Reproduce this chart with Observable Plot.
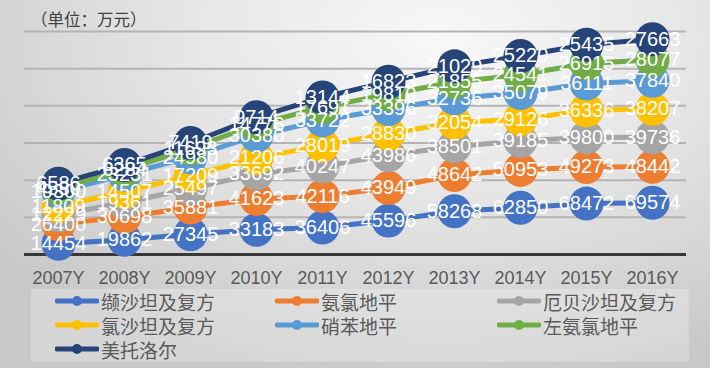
<!DOCTYPE html>
<html><head><meta charset="utf-8">
<script src="https://cdn.jsdelivr.net/npm/d3@7"></script>
<script src="https://cdn.jsdelivr.net/npm/@observablehq/plot@0.6"></script>
<style>
body{margin:0;}
#wrap{position:relative;width:710px;height:368px;overflow:hidden;background:radial-gradient(ellipse 80% 95% at 62% 10%, #f8f8f8 0%, #e6e6e6 45%, #c8c8c8 100%);font-family:"Liberation Sans","Noto Sans CJK SC",sans-serif;}
#title{position:absolute;left:31px;top:11px;font-size:16.5px;line-height:1;color:#404040;font-family:"Noto Sans CJK SC",sans-serif;}
#chart{position:absolute;left:0;top:0;}
#legend{position:absolute;left:31px;top:289px;width:658px;height:73px;background:rgba(255,255,255,0.25);}
.item{position:absolute;display:flex;align-items:center;font-size:19px;line-height:1;color:#595959;font-family:"Noto Sans CJK SC",sans-serif;height:24px;}
.item svg{margin-right:2px;}
</style></head><body>
<div id="wrap">
  <div id="chart"></div>
  <div id="title">（单位：万元）</div>
  <div id="legend"></div>
</div>
<script>
const years = ["2007Y","2008Y","2009Y","2010Y","2011Y","2012Y","2013Y","2014Y","2015Y","2016Y"];
const seriesNames = ["缬沙坦及复方","氨氯地平","厄贝沙坦及复方","氯沙坦及复方","硝苯地平","左氨氯地平","美托洛尔"];
const seriesColors = ["#4472C4","#ED7D31","#A5A5A5","#FFC000","#5B9BD5","#70AD47","#264478"];
const valsartan   = [14454,19862,27345,33183,36406,45596,58268,62850,68472,69574];
const amlodipine  = [26400,30698,35881,41623,42116,43949,48642,50953,49273,48442];
const irbesartan  = [12229,19361,25497,33692,40247,43986,38501,39185,39800,39736];
const losartan    = [11809,14507,17209,21206,28019,28830,32054,29126,36336,38207];
const nifedipine  = [19300,23231,24980,30380,33722,33396,32736,35079,36111,37840];
const levamlodipine = [4530,6284,11693,14776,17691,19810,21855,24541,26915,28077];
const metoprolol  = [6586,6365,7419,9714,13144,16823,21029,25220,25435,27663];
const gridValues = [50000,100000,150000,200000,250000,300000];

const seriesValues = [valsartan,amlodipine,irbesartan,losartan,nifedipine,levamlodipine,metoprolol];

// stacked line (cumulative tops)
const rows = [];
years.forEach((yr, j) => {
  let acc = 0;
  seriesNames.forEach((s, i) => {
    acc += seriesValues[i][j];
    rows.push({series: s, idx: i, year: yr, value: seriesValues[i][j], top: acc});
  });
});

const seriesMarks = seriesNames.flatMap((s, i) => {
  const d = rows.filter(r => r.idx === i);
  return [
    Plot.lineY(d, {x: "year", y: "top", stroke: seriesColors[i], strokeWidth: 5, strokeLinejoin: "round", strokeLinecap: "round"}),
    Plot.dot(d, {x: "year", y: "top", r: 17, fill: seriesColors[i], stroke: "none"})
  ];
});

const chart = Plot.plot({
  width: 710,
  height: 290,
  marginLeft: 24,
  marginRight: 24,
  marginTop: 31,
  marginBottom: 36,
  style: {background: "transparent", fontFamily: "'Liberation Sans', Arial, sans-serif"},
  x: {type: "point", domain: years, padding: 0.5, axis: null},
  y: {domain: [0, 300000], axis: null},
  marks: [
    Plot.ruleY(gridValues, {stroke: "#b4b4b4", strokeWidth: 2}),
    Plot.ruleY([0], {stroke: "#383838", strokeWidth: 3}),
    ...seriesMarks,
    Plot.text(rows, {x: "year", y: "top", text: d => String(d.value), fill: "white", fontSize: 20}),
    Plot.axisX({domain: years, tickSize: 0, tickPadding: 17, fontSize: 18, fill: "#595959", label: null})
  ]
});
document.getElementById("chart").appendChild(chart);

// legend
const legend = document.getElementById("legend");
const colX = [24, 244, 466];
const rowY = [12, 36, 60];
seriesNames.forEach((s, i) => {
  const col = i % 3, row = Math.floor(i / 3);
  const item = document.createElement("div");
  item.className = "item";
  item.style.left = colX[col] + "px";
  item.style.top = (rowY[row] - 12) + "px";
  item.innerHTML = `<svg width="44" height="24"><line x1="2" x2="42" y1="12" y2="12" stroke="${seriesColors[i]}" stroke-width="5" stroke-linecap="round"/><circle cx="22" cy="12" r="5" fill="${seriesColors[i]}"/></svg><span>${s}</span>`;
  legend.appendChild(item);
});
</script>
</body></html>
